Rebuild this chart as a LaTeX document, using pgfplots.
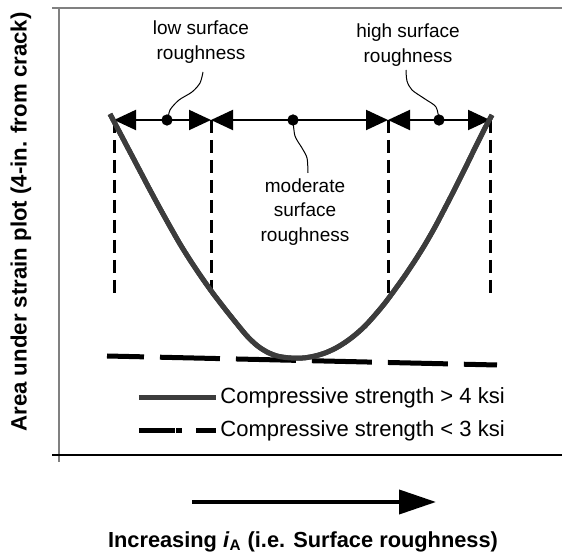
\documentclass[border=0pt]{standalone}
\usepackage{pgfplots}
\pgfplotsset{compat=1.18}
\usepackage{fontspec}
\setmainfont{Liberation Sans}
\usetikzlibrary{arrows.meta}
\definecolor{curvegray}{HTML}{3C3C3C}
\definecolor{axgray}{HTML}{808080}
\pgfplotstableread{
x y
110 442
120 423
130 404
140 385
150 366
160 347.5
170 329.5
180 312
190 296
200 281
212 264
225 247
237 232
247 220
257 210.5
267 204
277 200
287 198.3
297 197.8
305 198.2
315 200
325 203
335 207.5
345 213.5
355 221
365 230
375 241
385 253
395 266.5
405 280.5
415 295.5
425 311.5
435 329
445 348
455 367.5
465 387.5
475 408
485 428
492 441
}\curvedata
\begin{document}
\begin{tikzpicture}[x=1pt,y=1pt]
\path[use as bounding box] (0,0) rectangle (281,278);
\begin{axis}[
  at={(29.5pt,50.5pt)}, anchor=south west,
  scale only axis, width=251.5pt, height=223.5pt,
  xmin=59, xmax=562, ymin=101, ymax=548,
  hide axis, clip=false,
  legend style={at={(axis cs:136,142)}, anchor=west, draw=none, fill=none,
    font=\fontsize{11}{13}\selectfont, inner sep=0pt, row sep=3pt,
    nodes={inner xsep=1pt},
    /tikz/every even column/.append style={column sep=0pt}},
  legend cell align=left,
]
% legend series first
\addplot[curvegray, line width=2.5pt, smooth, tension=0.5,
  legend image code/.code={\draw[curvegray, line width=2.5pt, solid] (0pt,0pt) -- (38.5pt,0pt);}]
  table {\curvedata};
\addlegendentry{Compressive strength > 4 ksi}
\addplot[black, line width=2.5pt, dash pattern=on 30pt off 8pt, dash phase=11.5pt,
  legend image code/.code={\draw[black, line width=2.5pt, dash pattern=on 18pt off 0.7pt on 3pt off 7pt on 20pt, dash phase=0pt] (0pt,0pt) -- (38.5pt,0pt);}]
  coordinates {(107,200) (497,191)};
\addlegendentry{Compressive strength < 3 ksi}
% vertical dashed boundaries
\addplot[forget plot, black, line width=1.5pt, dash pattern=on 6.5pt off 3.5pt] coordinates {(114,436) (114,261)};
\addplot[forget plot, black, line width=1.5pt, dash pattern=on 6.5pt off 3.5pt] coordinates {(211,436) (211,261)};
\addplot[forget plot, black, line width=1.5pt, dash pattern=on 6.5pt off 3.5pt] coordinates {(388,436) (388,261)};
\addplot[forget plot, black, line width=1.5pt, dash pattern=on 6.5pt off 3.5pt] coordinates {(490,436) (490,261)};
% range arrows
\addplot[forget plot, black, line width=1pt, {Triangle[length=11pt,width=10pt]}-{Triangle[length=11pt,width=10pt]}] coordinates {(114,436) (211,436)};
\addplot[forget plot, black, line width=1pt, {Triangle[length=11pt,width=10pt]}-{Triangle[length=11pt,width=10pt]}] coordinates {(211,436) (388,436)};
\addplot[forget plot, black, line width=1pt, {Triangle[length=11pt,width=10pt]}-{Triangle[length=11pt,width=10pt]}] coordinates {(388,436) (490,436)};
% curve redrawn on top of the arrow line
\addplot[forget plot, curvegray, line width=2.5pt, smooth, tension=0.5] table {\curvedata};
% dots
\addplot[forget plot, only marks, mark=*, mark size=2.6pt, black] coordinates {(167,436) (293,436) (439,436)};
% leader lines
\addplot[forget plot, black, line width=0.5pt, smooth] coordinates {(168,436) (170,446) (179,456) (192,464) (200,473) (203,484)};
\addplot[forget plot, black, line width=0.5pt, smooth] coordinates {(293,436) (295,420) (302,408) (307,398) (308,383)};
\addplot[forget plot, black, line width=0.5pt, smooth] coordinates {(439,436) (436,449) (425,457) (412,466) (407,475) (406,486)};
% annotations
\node[align=center, font=\fontsize{9.5}{12.5}\selectfont] at (axis cs:201,513.5) {low surface\\roughness};
\node[align=center, font=\fontsize{9.5}{12.5}\selectfont] at (axis cs:408,510.5) {high surface\\roughness};
\node[align=center, font=\fontsize{9.5}{12.2}\selectfont] at (axis cs:305,344) {moderate\\surface\\roughness};
% axes frame
\draw[axgray, line width=0.6pt] (axis cs:52,548) -- (axis cs:562,548);
\draw[axgray, line width=0.6pt] (axis cs:59,548) -- (axis cs:59,94);
\draw[black, line width=0.6pt] (axis cs:52,101) -- (axis cs:562,101);
% direction arrow
\draw[black, line width=2pt, -{Triangle[length=18.5pt,width=12pt]}] (axis cs:192,54) -- (axis cs:436,54);
% labels
\node[font=\fontsize{10.9}{13}\selectfont\bfseries] at (axis cs:303,14) {Increasing \textit{i}\textsubscript{A} (i.e. Surface roughness)};
\node[font=\fontsize{11.1}{13}\selectfont\bfseries, rotate=90] at (axis cs:21,334) {Area under strain plot (4-in. from crack)};
\end{axis}
\end{tikzpicture}
\end{document}
